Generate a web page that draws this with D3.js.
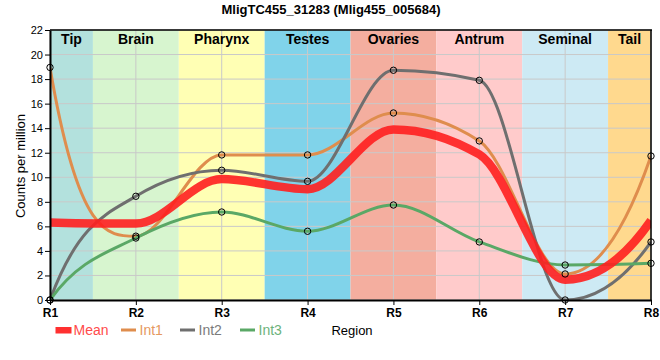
<!DOCTYPE html>
<html><head><meta charset="utf-8">
<script src="https://cdn.jsdelivr.net/npm/d3@7"></script>
<style>body{margin:0;background:#fff}svg{display:block}text{font-family:"Liberation Sans",Arial,sans-serif}</style>
</head><body><svg id="c" width="660" height="360"></svg>
<script>
const regions = ["R1","R2","R3","R4","R5","R6","R7","R8"];
const tissues = ["Tip","Brain","Pharynx","Testes","Ovaries","Antrum","Seminal","Tail"];
const tissueColors = ["#b3e1dd","#d7f5cf","#ffffb4","#80d3ea","#f4ae9f","#ffcbcb","#cdeaf4","#ffd98e"];
const int1 = [18.95, 5.2, 11.82, 11.82, 15.24, 12.96, 2.12, 11.73];
const int2 = [0.0, 8.45, 10.57, 9.67, 18.72, 17.9, 0.0, 4.73];
const int3 = [0.0, 5.05, 7.17, 5.6, 7.74, 4.73, 2.85, 2.99];
const meanVals = [6.32, 6.23, 9.85, 9.03, 13.9, 11.86, 1.66, 6.48];
const yTicks = [0,2,4,6,8,10,12,14,16,18,20,22];
const title = "MligTC455_31283 (Mlig455_005684)";

const svg = d3.select("#c");
const L = 50, R = 651, T = 30, B = 300;
const x = d3.scalePoint().domain(regions).range([L, R]);
const y = d3.scaleLinear().domain([0, 22]).range([B, T]);
const step = x.step();

// bands
const g = svg.append("g");
regions.forEach((r, i) => {
  const x0 = Math.max(L, x(r) - step/2), x1 = Math.min(R, x(r) + step/2);
  g.append("rect").attr("x", x0).attr("y", T).attr("width", x1 - x0).attr("height", B - T).attr("fill", tissueColors[i]);
});

// grid
svg.append("g").selectAll("line").data(yTicks).join("line")
  .attr("x1", L).attr("x2", R).attr("y1", d => y(d)).attr("y2", d => y(d))
  .attr("stroke", "#c9c9c9").attr("stroke-width", 1);
svg.append("g").selectAll("line").data(regions).join("line")
  .attr("x1", d => x(d)).attr("x2", d => x(d)).attr("y1", T).attr("y2", B)
  .attr("stroke", "#c9c9c9").attr("stroke-width", 1);

// band labels
regions.forEach((r, i) => {
  const x0 = Math.max(L, x(r) - step/2), x1 = Math.min(R, x(r) + step/2);
  svg.append("text").attr("x", (x0 + x1)/2).attr("y", T + 14).attr("text-anchor", "middle")
    .attr("font-size", 14).attr("font-weight", "bold").attr("fill", "#000").text(tissues[i]);
});

svg.append("clipPath").attr("id", "clip").append("rect").attr("x", L).attr("y", T).attr("width", R - L).attr("height", B - T);

// smooth monotone-style Hermite curve through the points
function smoothPath(vals) {
  const P = vals.map((v, i) => [x(regions[i]), y(v)]);
  const n = P.length, s = [], m = new Array(n);
  for (let i = 0; i < n - 1; i++) s.push((P[i+1][1] - P[i][1]) / (P[i+1][0] - P[i][0]));
  for (let i = 1; i < n - 1; i++) {
    const s0 = s[i-1], s1 = s[i], p = (s0 + s1) / 2;
    m[i] = (Math.sign(s0) + Math.sign(s1)) * Math.min(Math.abs(s0), Math.abs(s1), 0.5 * Math.abs(p)) || 0;
  }
  // left end: steep start
  {
    const s0 = s[0];
    let m0 = 3 * s0 - 1.5 * m[1];
    if (s0 === 0) m0 = 0;
    else {
      const r = m0 / s0;
      m0 = s0 * Math.max(0, Math.min(3, r));
      const a = m0 / s0, b = m[1] / s0;
      if (a*a + b*b > 9) m0 = s0 * Math.sqrt(Math.max(0, 9 - b*b));
    }
    m[0] = m0;
  }
  // right end
  {
    const sl = s[n-2];
    let ml = 2.1 * sl;
    if (sl !== 0) {
      const a = ml / sl, b = m[n-2] / sl;
      if (a*a + b*b > 9) ml = sl * Math.sqrt(Math.max(0, 9 - b*b));
    }
    m[n-1] = ml;
  }
  const path = d3.path();
  path.moveTo(P[0][0], P[0][1]);
  for (let i = 0; i < n - 1; i++) {
    const h = P[i+1][0] - P[i][0];
    path.bezierCurveTo(P[i][0] + h/3, P[i][1] + m[i]*h/3, P[i+1][0] - h/3, P[i+1][1] - m[i+1]*h/3, P[i+1][0], P[i+1][1]);
  }
  return path.toString();
}

const lines = svg.append("g").attr("clip-path", "url(#clip)");
const series = [
  {name: "Int1", vals: int1, color: "#df8d4d", tc: "#e5995f"},
  {name: "Int2", vals: int2, color: "#6f6f6f", tc: "#7b7b7b"},
  {name: "Int3", vals: int3, color: "#5aa866", tc: "#6db37b"}
];
series.forEach(s => {
  lines.append("path").attr("d", smoothPath(s.vals)).attr("fill", "none").attr("stroke", s.color).attr("stroke-width", 3);
});
lines.append("path").attr("d", smoothPath(meanVals)).attr("fill", "none").attr("stroke", "#ff1f1f").attr("stroke-opacity", 0.9).attr("stroke-width", 8.5);

// points
series.forEach(s => {
  svg.append("g").selectAll("circle").data(s.vals).join("circle")
    .attr("cx", (d, i) => x(regions[i])).attr("cy", d => y(d)).attr("r", 3.2)
    .attr("fill", "none").attr("stroke", "#000").attr("stroke-width", 1);
});

// frame
svg.append("line").attr("x1", L).attr("x2", R + 1).attr("y1", T).attr("y2", T).attr("stroke", "#000").attr("stroke-width", 1.5);
svg.append("line").attr("x1", R).attr("x2", R).attr("y1", T).attr("y2", B).attr("stroke", "#000").attr("stroke-width", 1.5);

// axes
const ya = svg.append("g").attr("transform", `translate(${L},0)`)
  .call(d3.axisLeft(y).tickValues(yTicks).tickSize(5).tickPadding(2).tickSizeOuter(0));
ya.select(".domain").attr("stroke", "#000").attr("stroke-width", 2);
ya.selectAll(".tick line").attr("stroke", "#000");
ya.selectAll("text").attr("font-size", 11).attr("fill", "#000").attr("font-family", "'Liberation Sans',Arial,sans-serif");
const xa = svg.append("g").attr("transform", `translate(0,${B})`)
  .call(d3.axisBottom(x).tickSize(5).tickPadding(3).tickSizeOuter(0));
xa.select(".domain").attr("stroke", "#000").attr("stroke-width", 2);
xa.selectAll(".tick line").attr("stroke", "#000");
xa.selectAll("text").attr("font-size", 12).attr("font-weight", "bold").attr("fill", "#000").attr("font-family", "'Liberation Sans',Arial,sans-serif");

// title
svg.append("text").attr("x", 331).attr("y", 13.5).attr("text-anchor", "middle").attr("font-size", 13).attr("font-weight", "bold").text(title);
// y label
svg.append("text").attr("transform", "translate(25,166) rotate(-90)").attr("text-anchor", "middle").attr("font-size", 13).text("Counts per million");
// x label
svg.append("text").attr("x", 352).attr("y", 335).attr("text-anchor", "middle").attr("font-size", 13).text("Region");

// legend
const lg = svg.append("g");
lg.append("rect").attr("x", 55.5).attr("y", 327).attr("width", 16).attr("height", 6.5).attr("fill", "#ff3030");
lg.append("text").attr("x", 73.5).attr("y", 335).attr("font-size", 14).attr("fill", "#ff4b4b").text("Mean");
const legX = [121, 180, 240];
series.forEach((s, i) => {
  lg.append("line").attr("x1", legX[i]).attr("x2", legX[i] + 15).attr("y1", 330).attr("y2", 330).attr("stroke", s.color).attr("stroke-width", 3);
  lg.append("text").attr("x", legX[i] + 18.5).attr("y", 335).attr("font-size", 14).attr("fill", s.tc).text(s.name);
});
</script></body></html>
